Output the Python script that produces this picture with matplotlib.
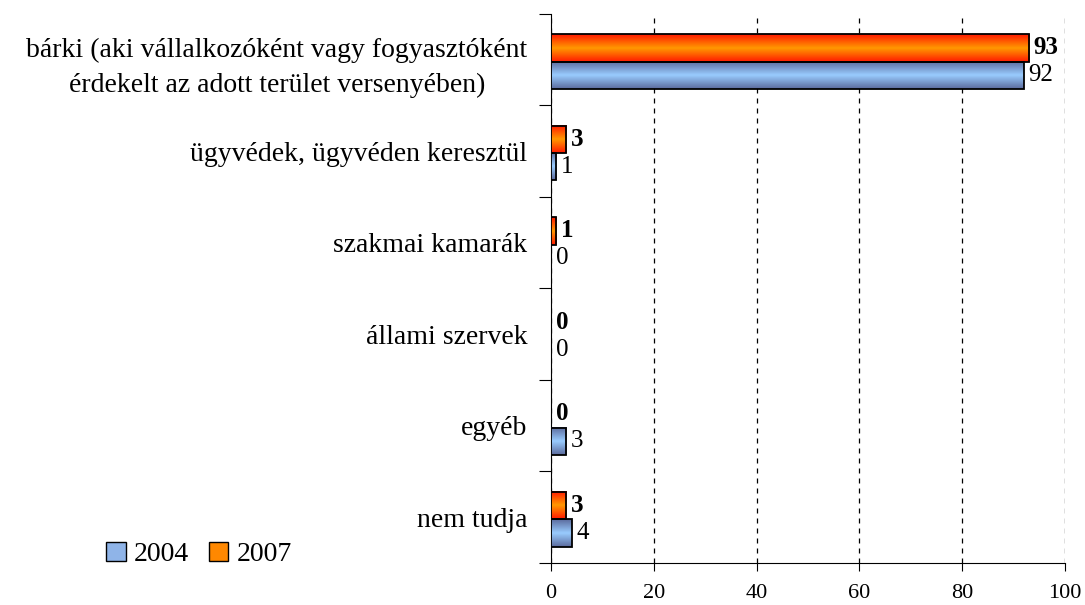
import matplotlib.pyplot as plt
import numpy as np
from matplotlib.colors import LinearSegmentedColormap
from matplotlib.patches import Rectangle, Patch

categories = ['bárki (aki vállalkozóként vagy fogyasztóként\nérdekelt az adott terület versenyében)',
              'ügyvédek, ügyvéden keresztül',
              'szakmai kamarák',
              'állami szervek',
              'egyéb',
              'nem tudja']
val_2004 = [92, 1, 0, 0, 3, 4]
val_2007 = [93, 3, 1, 0, 0, 3]

plt.rcParams['font.family'] = ['Liberation Serif', 'DejaVu Serif']

# gradiens színek (szél -> közép -> szél)
cmap_blue = LinearSegmentedColormap.from_list('kek', ['#5b6a9c', '#99ccff', '#5b6a9c'])
cmap_orange = LinearSegmentedColormap.from_list('narancs', ['#ff1a00', '#ff9900', '#ff1a00'])
grad = np.linspace(0, 1, 64).reshape(-1, 1)

fig = plt.figure(figsize=(10.85, 6.05), dpi=100)
ax = fig.add_axes([0.5078, 0.0694, 0.4738, 0.9076])

h = 0.3
for i in range(len(categories)):
    for v, off, cm, bold in [(val_2007[i], -h, cmap_orange, True), (val_2004[i], 0, cmap_blue, False)]:
        y0 = i + off + 0.02
        y1 = y0 + h
        if v > 0:
            ax.imshow(grad, extent=[0, v, y1, y0], aspect='auto', cmap=cm, zorder=3,
                      interpolation='bilinear')
            ax.add_patch(Rectangle((0, y0), v, h, fill=False, edgecolor='black', lw=1.3, zorder=4))
        ax.text(v + 0.9, y0 + h / 2, str(v), va='center', ha='left', fontsize=18,
                fontweight='bold' if bold else 'normal', zorder=5)

ax.set_xlim(0, 100)
ax.set_ylim(len(categories) - 0.5, -0.5)
ax.set_xticks([0, 20, 40, 60, 80, 100])
ax.tick_params(axis='x', labelsize=16, direction='out', length=6, pad=9)
ax.xaxis.grid(True, linestyle=(0, (4, 4)), color='black', lw=0.9, zorder=0)
ax.set_axisbelow(True)

# kategóriák határai a y tengelyen
ax.set_yticks(np.arange(-0.5, len(categories) + 0.5, 1))
ax.set_yticklabels([])
ax.tick_params(axis='y', direction='out', length=9)
ax.set_yticks(np.arange(len(categories)), minor=True)
ax.set_yticklabels(categories, minor=True, fontsize=20, ha='right', multialignment='center',
                   linespacing=1.55)
ax.tick_params(axis='y', which='minor', length=0, pad=17)

for s in ['top', 'right']:
    ax.spines[s].set_visible(False)

handles = [Patch(facecolor='#8fb4e8', edgecolor='black', label='2004'),
           Patch(facecolor='#ff8800', edgecolor='black', label='2007')]
fig.legend(handles=handles, loc='lower left', bbox_to_anchor=(0.08, 0.03), ncol=2, frameon=False,
           fontsize=20, handlelength=0.7, handleheight=0.7, handletextpad=0.3, columnspacing=0.7,
           borderpad=0.2)

fig.savefig('out.png', dpi=100)
